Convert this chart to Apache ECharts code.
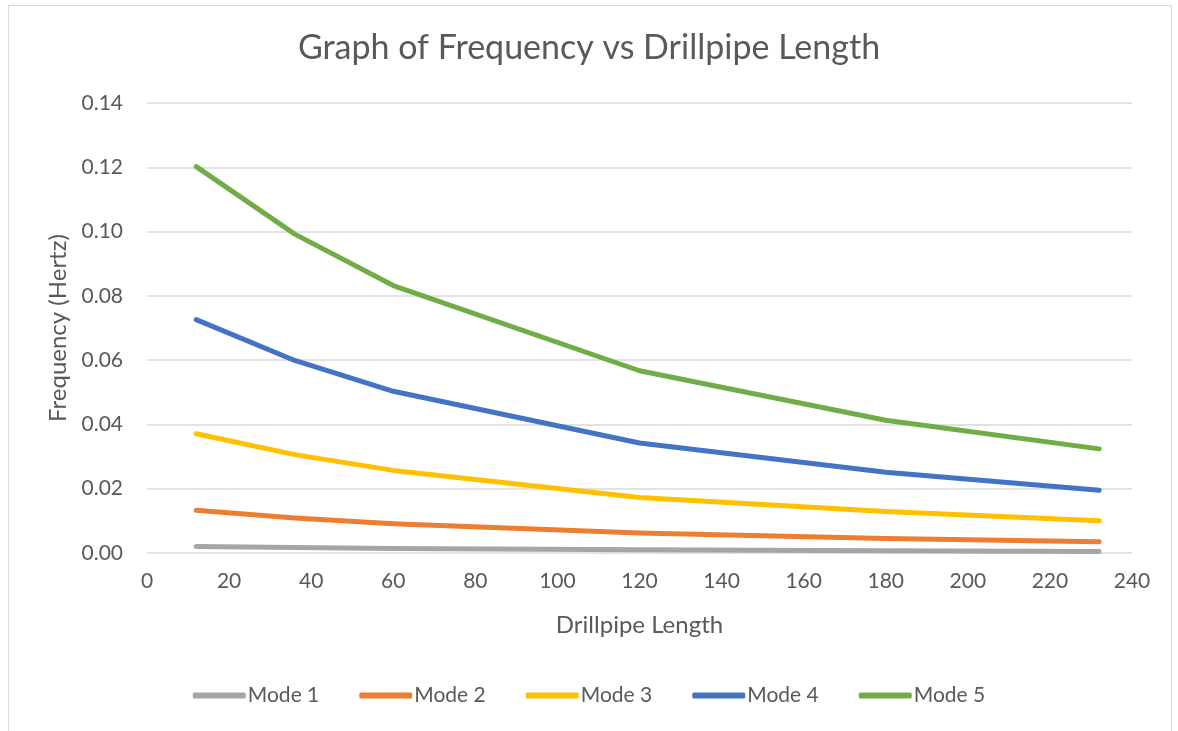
<!DOCTYPE html>
<html>
<head>
<meta charset="utf-8">
<script src="https://cdn.jsdelivr.net/npm/echarts@6/dist/echarts.min.js"></script>
<style>
html,body{margin:0;padding:0;background:#fff;}
#frame{position:absolute;left:8px;top:5px;width:1164px;height:740px;border:1px solid #d9d9d9;box-sizing:border-box;}
#chart{position:absolute;left:0;top:0;width:1178px;height:731px;}
</style>
</head>
<body>
<div id="frame"></div>
<div id="chart"></div>
<script>
const lengths = [12, 36, 60, 120, 180, 232];
const mode1 = [0.0020, 0.0017, 0.0014, 0.0010, 0.0007, 0.0005];
const mode2 = [0.0133, 0.0109, 0.0091, 0.0062, 0.0045, 0.0035];
const mode3 = [0.0371, 0.0306, 0.0257, 0.0173, 0.0129, 0.0100];
const mode4 = [0.0726, 0.0599, 0.0503, 0.0342, 0.0251, 0.0195];
const mode5 = [0.1202, 0.0992, 0.0832, 0.0567, 0.0413, 0.0324];
const seriesNames = ['Mode 1', 'Mode 2', 'Mode 3', 'Mode 4', 'Mode 5'];
const seriesColors = ['#a5a5a5', '#ed7d31', '#ffc000', '#4472c4', '#70ad47'];
const allSeries = [mode1, mode2, mode3, mode4, mode5];

const font = 'Lato, "Open Sans", sans-serif';
const chart = echarts.init(document.getElementById('chart'), null, {renderer: 'canvas'});
chart.setOption({
  animation: false,
  backgroundColor: 'transparent',
  title: {
    text: 'Graph of Frequency vs Drillpipe Length',
    left: 'center', top: 26,
    textStyle: {fontFamily: font, fontSize: 34, fontWeight: 'normal', color: '#595959'}
  },
  legend: {
    top: 680, left: 'center',
    itemWidth: 53, itemHeight: 6, itemGap: 40,
    icon: 'roundRect',
    textStyle: {fontFamily: font, fontSize: 21, color: '#595959', padding: [0, 0, 0, -3]},
    data: seriesNames
  },
  grid: {left: 147, right: 46, top: 103, bottom: 178, containLabel: false},
  xAxis: {
    type: 'value', min: 0, max: 240, interval: 20,
    name: 'Drillpipe Length', nameLocation: 'middle', nameGap: 60,
    nameTextStyle: {fontFamily: font, fontSize: 24, color: '#595959'},
    axisLine: {show: false}, axisTick: {show: false},
    splitLine: {show: false},
    axisLabel: {fontFamily: font, fontSize: 21, color: '#595959', margin: 18}
  },
  yAxis: {
    type: 'value', min: 0, max: 0.14, interval: 0.02,
    name: 'Frequency (Hertz)', nameLocation: 'middle', nameGap: 76, nameRotate: 90,
    nameTextStyle: {fontFamily: font, fontSize: 24, color: '#595959'},
    axisLine: {show: false}, axisTick: {show: false},
    splitLine: {show: true, lineStyle: {color: '#d9d9d9', width: 1.5}},
    axisLabel: {fontFamily: font, fontSize: 21, color: '#595959', margin: 24,
      formatter: v => v.toFixed(2)}
  },
  series: allSeries.map((vals, i) => ({
    name: seriesNames[i], type: 'line',
    data: lengths.map((x, j) => [x, vals[j]]),
    showSymbol: false, symbol: 'none',
    lineStyle: {width: 5, color: seriesColors[i], cap: 'round', join: 'round'},
    itemStyle: {color: seriesColors[i]}
  }))
});
</script>
</body>
</html>
